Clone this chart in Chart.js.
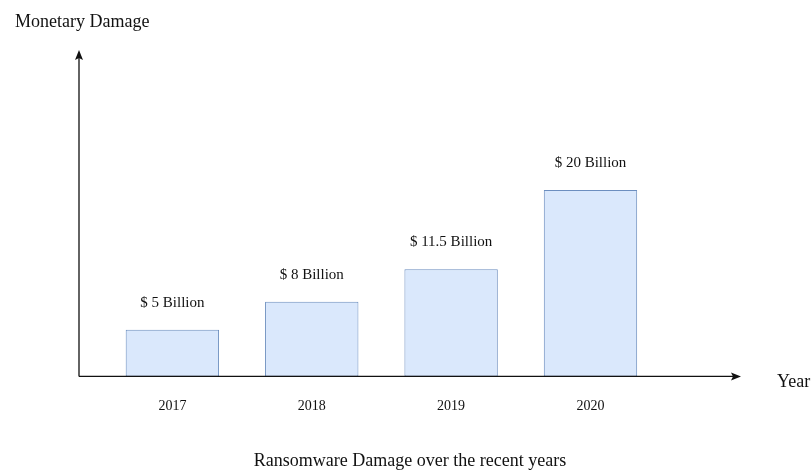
<!DOCTYPE html>
<html>
<head>
<meta charset="utf-8">
<title>Ransomware Damage</title>
<script src="https://cdn.jsdelivr.net/npm/chart.js@4.4.1/dist/chart.umd.min.js"></script>
<style>
  body { margin: 0; background: #fff; }
  canvas { display: block; }
</style>
</head>
<body>
<canvas id="damageChart" width="811" height="472"></canvas>
<script>
// data (billions of USD)
const years = ['2017', '2018', '2019', '2020'];
const damage = [5, 8, 11.5, 20];
const yAxisName = 'Monetary Damage';
const xAxisName = 'Year';
const chartTitle = 'Ransomware Damage over the recent years';

const serif = '"Liberation Serif", "Times New Roman", serif';
const ink = '#111';

// arrows for the axes + the names and value labels
const axisArrows = {
  id: 'axisArrows',
  afterDraw(c) {
    const { ctx, chartArea: a } = c;
    ctx.save();
    ctx.strokeStyle = ink;
    ctx.fillStyle = ink;
    ctx.lineWidth = 1.3;

    ctx.beginPath();
    ctx.moveTo(a.left, a.bottom);
    ctx.lineTo(a.left, a.top + 6);
    ctx.moveTo(a.left, a.bottom);
    ctx.lineTo(a.right - 6, a.bottom);
    ctx.stroke();

    // arrow heads
    ctx.beginPath();
    ctx.moveTo(a.left, a.top);
    ctx.lineTo(a.left - 4, a.top + 10);
    ctx.lineTo(a.left, a.top + 8);
    ctx.lineTo(a.left + 4, a.top + 10);
    ctx.closePath();
    ctx.fill();

    ctx.beginPath();
    ctx.moveTo(a.right, a.bottom);
    ctx.lineTo(a.right - 10, a.bottom - 4);
    ctx.lineTo(a.right - 8, a.bottom);
    ctx.lineTo(a.right - 10, a.bottom + 4);
    ctx.closePath();
    ctx.fill();

    ctx.font = '18px ' + serif;
    ctx.textBaseline = 'middle';
    ctx.textAlign = 'left';
    ctx.fillText(yAxisName, a.left - 64, a.top - 28);
    ctx.fillText(xAxisName, a.right + 36, a.bottom + 6);

    // value labels above the bars
    ctx.font = '15px ' + serif;
    ctx.textAlign = 'center';
    c.getDatasetMeta(0).data.forEach((bar, i) => {
      ctx.fillText('$ ' + damage[i] + ' Billion', bar.x, bar.y - 27);
    });
    ctx.restore();
  }
};

new Chart(document.getElementById('damageChart'), {
  type: 'bar',
  data: {
    datasets: [{
      label: 'Damage',
      data: years.map((y, i) => ({ x: i + 1, y: damage[i] })),
      backgroundColor: '#dae8fc',
      borderColor: '#6c8ebf',
      borderWidth: 1,
      borderSkipped: false,
      barPercentage: 0.67,
      categoryPercentage: 1
    }]
  },
  options: {
    responsive: false,
    animation: false,
    layout: { padding: { left: 79, right: 70, top: 50, bottom: 0 } },
    scales: {
      x: {
        type: 'linear',
        offset: false,
        min: 0.33,
        max: 5.08,
        afterBuildTicks: (s) => { s.ticks = years.map((y, i) => ({ value: i + 1 })); },
        grid: { display: false, drawTicks: false },
        border: { display: false },
        ticks: {
          padding: 21.6,
          color: ink,
          font: { family: serif, size: 14 },
          maxRotation: 0,
          callback: (v) => years[v - 1] || ''
        }
      },
      y: {
        display: false,
        min: 0,
        max: 35
      }
    },
    plugins: {
      legend: { display: false },
      tooltip: { enabled: false },
      title: {
        display: true,
        position: 'bottom',
        text: chartTitle,
        color: ink,
        font: { family: serif, size: 18, weight: 'normal' },
        padding: { top: 14, bottom: 0 }
      }
    }
  },
  plugins: [axisArrows]
});
</script>
</body>
</html>
